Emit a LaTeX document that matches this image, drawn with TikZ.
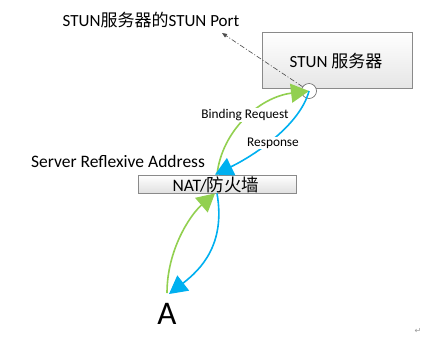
\documentclass[tikz,border=0pt]{standalone}
\usepackage{fontspec}
\setmainfont{Carlito}
\newfontfamily\cjk{Noto Sans CJK SC}
\newfontfamily\symf{DejaVu Sans}
\usetikzlibrary{arrows.meta,shadows}
\definecolor{reqgreen}{HTML}{92D050}
\definecolor{respblue}{HTML}{00B0F0}
\definecolor{boxedge}{HTML}{8A8A8A}
\begin{document}
\begin{tikzpicture}[x=1pt,y=-1pt,
  server/.style={draw=boxedge,line width=0.8pt,top color=white,bottom color=black!10,
    minimum width=150pt,minimum height=56pt,inner sep=0pt,
    drop shadow={shadow xshift=1.2pt,shadow yshift=-1.2pt,opacity=0.35}},
  natbox/.style={draw=boxedge,line width=0.8pt,top color=white,bottom color=black!12,
    minimum width=158pt,minimum height=18pt,inner sep=0pt,
    drop shadow={shadow xshift=1.2pt,shadow yshift=-1.2pt,opacity=0.35}},
  portc/.style={circle,draw=black!60,fill=white,line width=0.6pt,minimum size=15pt,inner sep=0pt},
  lbl/.style={inner sep=0pt,font=\fontsize{17}{19}\selectfont},
  smalllbl/.style={inner sep=1pt,fill=white,font=\fontsize{13.3}{15}\selectfont},
  req/.style={draw=reqgreen,line width=1.6pt,-{Triangle[length=18pt,width=19pt]}},
  resp/.style={draw=respblue,line width=1.6pt,-{Triangle[length=18pt,width=19pt]}},
  portline/.style={draw=black!70,line width=0.6pt,dash pattern=on 5pt off 2pt on 1pt off 2pt,
    -{Triangle[length=5pt,width=4pt]}}]
\useasboundingbox[fill=white] (0,0) rectangle (443,341);

\node[server] (stun) at (337,60) {};
\node[lbl] (stuntext) at (336,61) {STUN {\cjk 服务器}};
\node[natbox] (nat) at (217,184) {};
\node[lbl,font=\fontsize{17.5}{19}\selectfont] (nattext) at (216,185) {NAT/{\cjk 防火墙}};
\node[portc] (port) at (309,91) {};

\node[lbl] (portlabel) at (151,20) {STUN{\cjk 服务器的}STUN Port};
\node[lbl,font=\fontsize{17.5}{19}\selectfont] (sra) at (118,161) {Server Reflexive Address};
\node[inner sep=0pt,font=\fontsize{33}{36}\selectfont] (A) at (167,314) {A};
\node[inner sep=0pt,font=\symf\fontsize{8}{9}\selectfont,text=black!40] (ret) at (418,331) {↵};

\coordinate (portarrow) at (222,33);
\coordinate (atop) at (167,293);
\coordinate (ain) at (169,294);

\draw[portline] (port) -- (portarrow);
\draw[req] (nat.north) .. controls (222,130) and (260,97) .. (port.center);
\draw[resp] (port.center) .. controls (300,125) and (255,155) .. ([xshift=-2pt]nat.north);
\draw[req] (atop) .. controls (167,250) and (190,215) .. ([xshift=-2pt]nat.south);
\draw[resp] (nat.south) .. controls (226,245) and (200,270) .. (ain);

\node[smalllbl] (bind) at (245,115) {Binding Request};
\node[smalllbl] (respl) at (273,143) {Response};
\end{tikzpicture}
\end{document}
